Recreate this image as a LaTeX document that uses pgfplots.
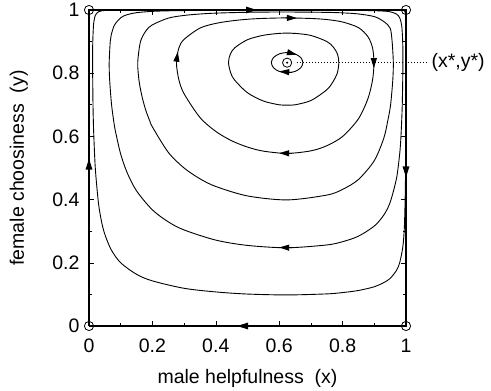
\documentclass[border=0pt]{standalone}
\usepackage{fontspec}
\setmainfont{Liberation Sans}
\usepackage{pgfplots}
\pgfplotsset{compat=1.18}
\usetikzlibrary{arrows.meta}
\begin{document}
\begin{tikzpicture}[font=\fontsize{19.5bp}{23bp}\selectfont]
\begin{axis}[name=ax, scale only axis, width=317bp, height=316bp,
  xmin=0, xmax=1, ymin=0, ymax=1,
  xtick={0,0.2,0.4,0.6,0.8,1}, ytick={0,0.2,0.4,0.6,0.8,1},
  xticklabels={0,0.2,0.4,0.6,0.8,1}, yticklabels={0,0.2,0.4,0.6,0.8,1},
  minor xtick={0.1,0.3,0.5,0.7,0.9}, minor ytick={0.1,0.3,0.5,0.7,0.9},
  tick align=inside, major tick length=5bp, minor tick length=3.5bp,
  tick style={black, line width=0.6bp},
  axis line style={line width=0.8bp},
  /pgf/number format/assume math mode=true,
  tick label style={font=\fontsize{19.5bp}{23bp}\selectfont},
  xticklabel style={yshift=-9.5bp},
  yticklabel style={xshift=-6bp},
  clip=false,
  every axis plot/.append style={line width=0.9bp, black},
]
% boundary invariant lines
\addplot[line width=1.8bp] coordinates {(0,0) (0,1) (1,1) (1,0) (0,0)};
% orbit A
\addplot[smooth] coordinates {(0.625,0.8654) (0.6499,0.8611) (0.6681,0.8494) (0.6748,0.8333) (0.6681,0.8173) (0.6499,0.8055) (0.625,0.8012) (0.6001,0.8055) (0.5819,0.8173) (0.5752,0.8333) (0.5819,0.8494) (0.6001,0.8611) (0.625,0.8654) (0.6499,0.8611)};
% orbit B
\addplot[smooth] coordinates {(0.625,0.9266) (0.65,0.926) (0.7,0.9195) (0.75,0.9004) (0.77,0.8834) (0.784,0.86) (0.788,0.8333) (0.7832,0.80) (0.77,0.7735) (0.75,0.7475) (0.7,0.7135) (0.65,0.700) (0.625,0.6989) (0.6,0.700) (0.55,0.712) (0.5,0.738) (0.46,0.7775) (0.4474,0.80) (0.440,0.8333) (0.4457,0.86) (0.46,0.8805) (0.5,0.906) (0.55,0.920) (0.6,0.926) (0.625,0.9266) (0.65,0.926)};
% orbit C
\addplot[smooth] coordinates {(0.625,0.975) (0.7,0.9732) (0.75,0.9698) (0.8,0.962) (0.85,0.9442) (0.88,0.9154) (0.8945,0.88) (0.8989,0.8333) (0.8947,0.78) (0.88,0.7199) (0.85,0.6557) (0.8,0.5998) (0.75,0.5704) (0.7,0.5543) (0.625,0.5462) (0.55,0.5534) (0.5,0.5662) (0.45,0.5862) (0.4,0.6158) (0.35,0.6599) (0.3,0.735) (0.2833,0.78) (0.2759,0.8333) (0.2836,0.88) (0.3,0.9071) (0.35,0.9427) (0.4,0.9576) (0.45,0.9656) (0.5,0.9707) (0.55,0.9734) (0.625,0.975) (0.7,0.9732)};
% orbit D
\addplot[smooth] coordinates {(0.625,0.9937) (0.75,0.9925) (0.8,0.9909) (0.85,0.9875) (0.9,0.9791) (0.93,0.9634) (0.95,0.9426) (0.9562,0.9) (0.960,0.8333) (0.9584,0.78) (0.9535,0.72) (0.95,0.6896) (0.9426,0.65) (0.93,0.5946) (0.9,0.5234) (0.85,0.4637) (0.8,0.4323) (0.75,0.4143) (0.625,0.399) (0.5,0.4116) (0.4,0.4415) (0.35,0.4659) (0.3,0.5) (0.25,0.5497) (0.2,0.630) (0.1914,0.65) (0.18,0.680) (0.1687,0.72) (0.16,0.7617) (0.1573,0.78) (0.1537,0.8333) (0.1624,0.9) (0.18,0.9346) (0.2,0.9531) (0.25,0.9742) (0.3,0.9828) (0.35,0.9873) (0.4,0.9901) (0.5,0.9928) (0.625,0.9937) (0.75,0.9925)};
% orbit E
\addplot[smooth] coordinates {(0.625,0.9993) (0.75,0.9992) (0.85,0.9987) (0.9,0.9978) (0.93,0.9965) (0.95,0.9943) (0.97,0.9872) (0.98,0.9753) (0.9865,0.95) (0.9895,0.9) (0.9903,0.8333) (0.9882,0.7) (0.9841,0.6) (0.98,0.5444) (0.97,0.4669) (0.95,0.3914) (0.93,0.3513) (0.9,0.3163) (0.85,0.2843) (0.8,0.2668) (0.75,0.2565) (0.625,0.2476) (0.5,0.255) (0.4,0.2718) (0.3,0.3039) (0.25,0.3297) (0.2,0.3675) (0.15,0.4276) (0.12,0.4861) (0.1,0.5438) (0.0869,0.6) (0.08,0.6349) (0.0712,0.7) (0.0651,0.78) (0.0637,0.8333) (0.067,0.9) (0.07,0.9205) (0.08,0.9516) (0.1,0.9754) (0.12,0.985) (0.15,0.9916) (0.2,0.9957) (0.25,0.9974) (0.3,0.9982) (0.4,0.9989) (0.5,0.9992) (0.625,0.9993) (0.75,0.9992)};
% orbit F
\addplot[smooth] coordinates {(0.5,0.99995) (0.9,0.9998) (0.99,0.9993) (0.995,0.9978) (0.998,0.9903) (0.999,0.9675) (0.9994,0.8333) (0.999,0.5788) (0.998,0.4402) (0.995,0.3173) (0.99,0.2509) (0.98,0.2) (0.97,0.1761) (0.95,0.1506) (0.93,0.1374) (0.9,0.1242) (0.85,0.1124) (0.8,0.1058) (0.75,0.1016) (0.625,0.0983) (0.5,0.1011) (0.4,0.1078) (0.3,0.1193) (0.2,0.1428) (0.15,0.1636) (0.1,0.2) (0.07,0.2415) (0.05,0.2899) (0.04,0.3283) (0.03,0.3878) (0.02,0.4973) (0.015,0.6065) (0.0137,0.65) (0.0126,0.7) (0.0113,0.8333) (0.0119,0.9) (0.014,0.95) (0.015,0.9605) (0.02,0.9832) (0.03,0.9945) (0.04,0.9974) (0.05,0.9986) (0.07,0.9994) (0.1,0.9998) (0.5,0.99995) (0.9,0.9998)};
% arrowheads on boundary
\addplot[line width=1.2bp, -{Triangle[length=11bp,width=6.5bp]}] coordinates {(0.49,1) (0.53,1)};
\addplot[line width=1.2bp, -{Triangle[length=11bp,width=6.5bp]}] coordinates {(1,0.51) (1,0.47)};
\addplot[line width=1.2bp, -{Triangle[length=11bp,width=6.5bp]}] coordinates {(0.51,0) (0.467,0)};
\addplot[line width=1.2bp, -{Triangle[length=11bp,width=6.5bp]}] coordinates {(0,0.49) (0,0.53)};
% arrowheads on orbits
\addplot[-{Triangle[length=10bp,width=6bp]}] coordinates {(0.62,0.975) (0.656,0.9745)};
\addplot[-{Triangle[length=10bp,width=6bp]}] coordinates {(0.8985,0.845) (0.8985,0.816)};
\addplot[-{Triangle[length=10bp,width=6bp]}] coordinates {(0.64,0.5465) (0.6,0.547)};
\addplot[-{Triangle[length=10bp,width=6bp]}] coordinates {(0.2762,0.84) (0.2801,0.868)};
\addplot[-{Triangle[length=10bp,width=6bp]}] coordinates {(0.63,0.8652) (0.656,0.8584)};
\addplot[-{Triangle[length=10bp,width=6bp]}] coordinates {(0.64,0.8027) (0.6,0.8055)};
\addplot[-{Triangle[length=10bp,width=6bp]}] coordinates {(0.64,0.2477) (0.6,0.2485)};
% equilibria
\addplot[only marks, mark=o, mark size=4.6bp, mark options={line width=0.8bp, black}] coordinates {(0,0) (1,0) (0,1) (1,1) (0.625,0.8333)};
\addplot[only marks, mark=*, mark size=0.5bp] coordinates {(0.625,0.8333)};
% dotted pointer
\addplot[line width=0.8bp, dash pattern={on 1.2bp off 1.8bp}] coordinates {(0.656,0.8333) (1.069,0.8333)};
\node[anchor=west, inner sep=0pt] at (axis cs:1.08,0.8333) {(x*,y*)};
\end{axis}
\node[anchor=base] at ([yshift=-57bp]ax.south) {male helpfulness\ \ (x)};
\node[rotate=90, anchor=base] at ([xshift=-65bp]ax.west) {female choosiness\ \ (y)};
\pgfresetboundingbox
\path[use as bounding box] ([xshift=-89bp,yshift=-65bp]ax.south west) rectangle ([xshift=85bp,yshift=10bp]ax.north east);
\end{tikzpicture}
\end{document}
